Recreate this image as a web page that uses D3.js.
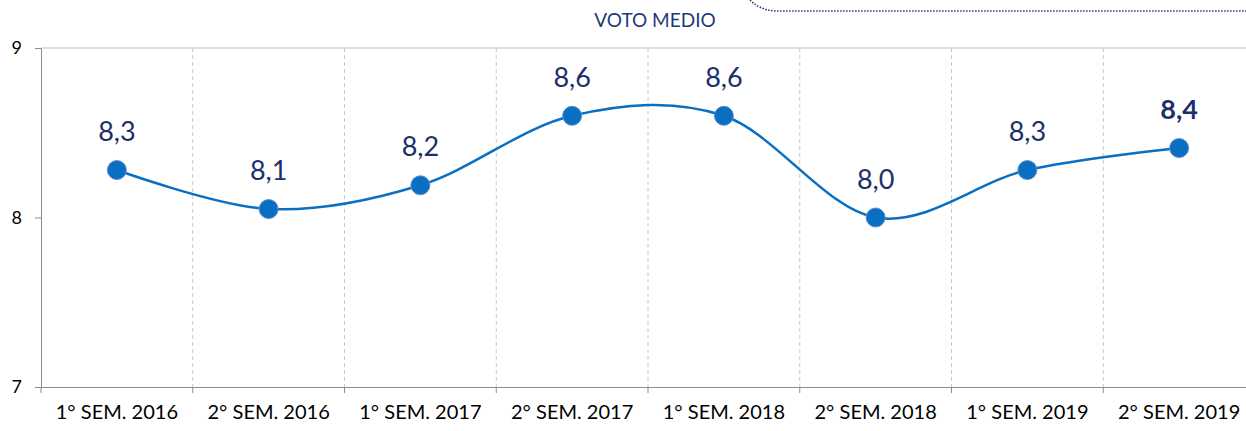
<!DOCTYPE html>
<html>
<head>
<meta charset="utf-8">
<script src="https://cdn.jsdelivr.net/npm/d3@7"></script>
<style>
  body { margin: 0; background: #fff; }
  svg { display: block; font-family: Lato, "Open Sans", sans-serif; }
</style>
</head>
<body>
<script>
//chart data
var categories = ["1° SEM. 2016", "2° SEM. 2016", "1° SEM. 2017", "2° SEM. 2017",
                  "1° SEM. 2018", "2° SEM. 2018", "1° SEM. 2019", "2° SEM. 2019"];
var values = [8.28, 8.05, 8.19, 8.6, 8.6, 8.0, 8.28, 8.41];
var valueLabels = ["8,3", "8,1", "8,2", "8,6", "8,6", "8,0", "8,3", "8,4"];
var yTicks = [7, 8, 9];
var title = "VOTO MEDIO";

drawChart();

function drawChart(){

    //frame
    var width = 1246,
        height = 431;
    var plotLeft = 41, plotRight = 1255, plotTop = 48, plotBottom = 387;

    var svg = d3.select("body")
        .append("svg")
        .attr("width", width)
        .attr("height", height);

    var x = d3.scaleBand()
        .domain(categories)
        .range([plotLeft, plotRight]);

    var y = d3.scaleLinear()
        .domain([7, 9])
        .range([plotBottom, plotTop]);

    function cx(i){ return x(categories[i]) + x.bandwidth() / 2; }

    //title and dotted frame line
    svg.append("text")
        .attr("x", 655)
        .attr("y", 27)
        .attr("text-anchor", "middle")
        .attr("fill", "#1f3a7a")
        .style("font-size", "19px")
        .text(title);

    svg.append("path")
        .attr("d", "M750,0 Q760,10 775,11 L1246,11")
        .attr("fill", "none")
        .attr("stroke", "#1f3a7a")
        .attr("stroke-width", 1.6)
        .attr("stroke-dasharray", "1.5,1.5");

    //vertical dashed separators
    svg.selectAll(".sep")
        .data(categories.slice(1))
        .enter()
        .append("line")
        .attr("class", "sep")
        .attr("x1", function(d){ return x(d); })
        .attr("x2", function(d){ return x(d); })
        .attr("y1", plotTop)
        .attr("y2", plotBottom)
        .attr("stroke", "#c8c8c8")
        .attr("stroke-dasharray", "4,3");

    //top border line
    svg.append("line")
        .attr("x1", plotLeft).attr("x2", width)
        .attr("y1", y(9)).attr("y2", y(9))
        .attr("stroke", "#bfbfbf");

    //y axis
    var yAxis = svg.append("g")
        .attr("transform", "translate(" + plotLeft + ",0)")
        .call(d3.axisLeft(y).tickValues(yTicks).tickSize(6).tickPadding(13).tickFormat(d3.format("d")));
    yAxis.select(".domain").attr("stroke", "#8c8c8c");
    yAxis.selectAll(".tick line").attr("stroke", "#8c8c8c");
    yAxis.selectAll("text").attr("fill", "#000").style("font-size", "18px").style("font-family", "Lato, sans-serif");

    //x axis
    var xAxis = svg.append("g")
        .attr("transform", "translate(0," + plotBottom + ")")
        .call(d3.axisBottom(x).tickSize(0).tickPadding(18));
    xAxis.select(".domain").attr("stroke", "#8c8c8c");
    xAxis.selectAll("text").attr("fill", "#000").style("font-size", "20px").style("font-family", "Lato, sans-serif");

    svg.selectAll(".xtick")
        .data(categories)
        .enter()
        .append("line")
        .attr("x1", function(d){ return x(d); })
        .attr("x2", function(d){ return x(d); })
        .attr("y1", plotBottom)
        .attr("y2", plotBottom + 6)
        .attr("stroke", "#8c8c8c");

    //smoothed line
    var line = d3.line()
        .x(function(d, i){ return cx(i); })
        .y(function(d){ return y(d); })
        .curve(d3.curveCardinal.tension(0));

    svg.append("path")
        .datum(values)
        .attr("d", line)
        .attr("fill", "none")
        .attr("stroke", "#0a6fc2")
        .attr("stroke-width", 2.5);

    //markers
    svg.selectAll(".dot")
        .data(values)
        .enter()
        .append("circle")
        .attr("cx", function(d, i){ return cx(i); })
        .attr("cy", function(d){ return y(d); })
        .attr("r", 9.5)
        .attr("fill", "#0a6fc2")
        .attr("stroke", "#5b8fd0")
        .attr("stroke-width", 1);

    //value labels
    svg.selectAll(".vlab")
        .data(values)
        .enter()
        .append("text")
        .attr("x", function(d, i){ return cx(i); })
        .attr("y", function(d){ return y(d) - 29; })
        .attr("text-anchor", "middle")
        .attr("fill", "#1c2f6b")
        .style("font-size", "27px")
        .style("font-weight", function(d, i){ return i === values.length - 1 ? "bold" : "normal"; })
        .text(function(d, i){ return valueLabels[i]; });
}
</script>
</body>
</html>
